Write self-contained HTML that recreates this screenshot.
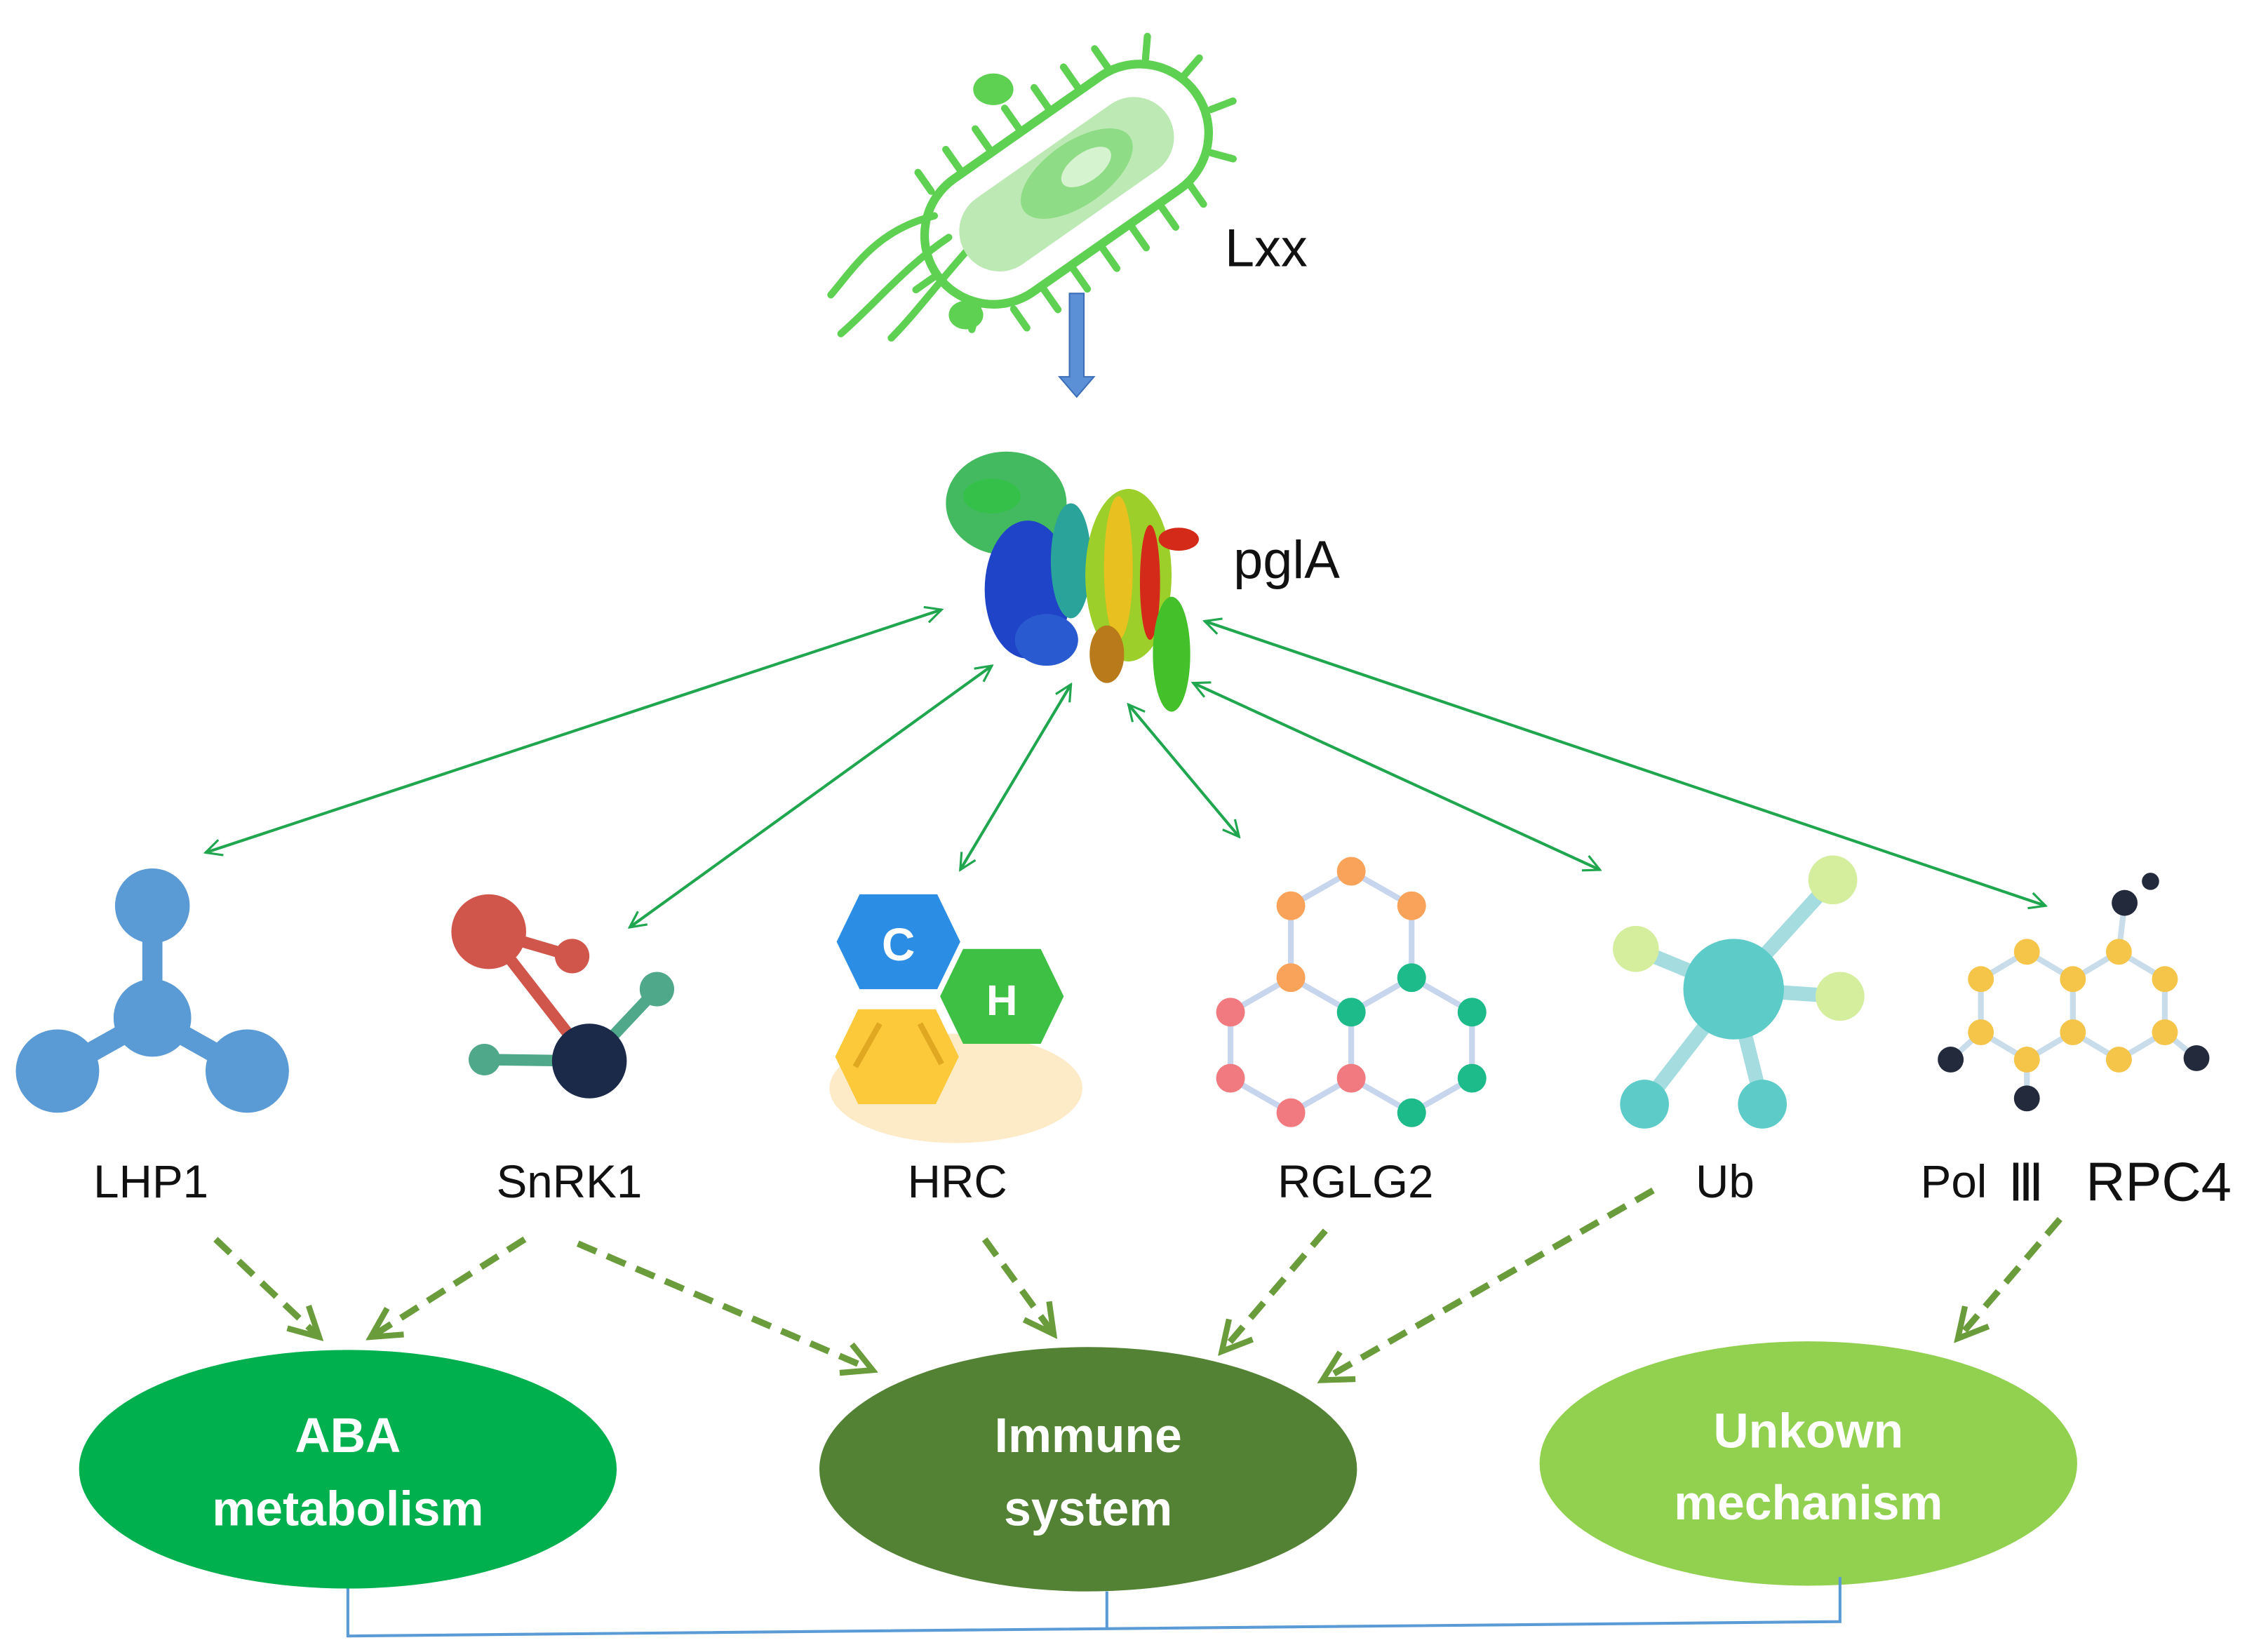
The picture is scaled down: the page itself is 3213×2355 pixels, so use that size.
<!DOCTYPE html>
<html><head><meta charset="utf-8"><style>
html,body{margin:0;padding:0;background:#fff;}
svg{display:block;}
text{font-family:"Liberation Sans","DejaVu Sans",sans-serif;}
</style></head><body>
<svg width="3213" height="2355" viewBox="0 0 1568 1149" xmlns="http://www.w3.org/2000/svg">
<defs>
<marker id="op" viewBox="0 0 20 20" refX="18" refY="10" markerWidth="14" markerHeight="14" markerUnits="userSpaceOnUse" orient="auto-start-reverse">
<path d="M2,2 L18,10 L2,18" fill="none" stroke="#1fa64f" stroke-width="2.2"/>
</marker>
<marker id="dh" viewBox="0 0 20 20" refX="17" refY="10" markerWidth="6" markerHeight="6" orient="auto">
<path d="M2,2 L17,10 L2,18" fill="none" stroke="#6b9c3c" stroke-width="3"/>
</marker>
</defs>

<!-- Bacterium -->
<g stroke="#5fd152" fill="none" stroke-width="5" stroke-linecap="round">
<path d="M650,150 C610,160 595,185 578,205"/>
<path d="M660,165 C630,185 610,210 585,232"/>
<path d="M672,175 C650,200 635,220 620,235"/>
<g transform="translate(742,128) rotate(-35)">
<rect x="-110" y="-48" width="220" height="96" rx="48" stroke-width="6"/>
<g stroke-width="5">
<path d="M-80,-50 v-16 M-55,-50 v-18 M-30,-50 v-18 M-5,-50 v-18 M20,-50 v-18 M45,-50 v-18 M70,-50 v-16 M95,-40 l10,-12 M110,-15 l16,-4 M112,15 l16,4"/>
<path d="M-80,50 v16 M-55,50 v18 M-30,50 v18 M-5,50 v18 M20,50 v18 M45,50 v18 M70,50 v16 M95,40 l10,12 M-100,35 l-12,10 M-112,0 h-16"/>
</g>
<rect x="-85" y="-28" width="170" height="56" rx="28" fill="#bdeab4" stroke="none"/>
<ellipse cx="10" cy="-2" rx="45" ry="22" fill="#8fdc86" stroke="none"/>
<ellipse cx="18" cy="-2" rx="20" ry="10" fill="#d6f3d0" stroke="none"/>
</g>
</g>
<ellipse cx="691" cy="62" rx="14" ry="11" fill="#5fd152"/>
<ellipse cx="672" cy="219" rx="12" ry="10" fill="#5fd152"/>
<text x="852" y="185" font-size="37" fill="#111">Lxx</text>

<!-- blue arrow -->
<path d="M744,204 h10 v58 h7 l-12,14 l-12,-14 h7 z" fill="#5b8fd6" stroke="#3d6fb8" stroke-width="1"/>

<!-- Protein -->
<g>
<ellipse cx="700" cy="350" rx="42" ry="36" fill="#2fb24f" opacity="0.9"/>
<ellipse cx="715" cy="410" rx="30" ry="48" fill="#1f44c8"/>
<ellipse cx="728" cy="445" rx="22" ry="18" fill="#2a5ad0"/>
<ellipse cx="745" cy="390" rx="14" ry="40" fill="#2aa39a"/>
<ellipse cx="785" cy="400" rx="30" ry="60" fill="#9ccf2a"/>
<ellipse cx="778" cy="395" rx="10" ry="50" fill="#e8c020"/>
<ellipse cx="800" cy="405" rx="7" ry="40" fill="#d42a1a"/>
<ellipse cx="820" cy="375" rx="14" ry="8" fill="#d42a1a"/>
<ellipse cx="770" cy="455" rx="12" ry="20" fill="#b87a1a"/>
<ellipse cx="815" cy="455" rx="13" ry="40" fill="#44c02a"/>
<ellipse cx="690" cy="345" rx="20" ry="12" fill="#35c04a"/>
</g>
<text x="858" y="402" font-size="37" fill="#111">pglA</text>

<!-- green double arrows -->
<g stroke="#1fa64f" stroke-width="2" fill="none" marker-start="url(#op)" marker-end="url(#op)">
<line x1="655" y1="424" x2="143" y2="593"/>
<line x1="690" y1="463" x2="438" y2="645"/>
<line x1="745" y1="476" x2="668" y2="605"/>
<line x1="785" y1="490" x2="862" y2="582"/>
<line x1="830" y1="475" x2="1113" y2="605"/>
<line x1="838" y1="432" x2="1423" y2="630"/>
</g>

<!-- LHP1 -->
<g fill="#5b9bd5" stroke="#5b9bd5">
<line x1="106" y1="630" x2="106" y2="708" stroke-width="14"/>
<line x1="106" y1="708" x2="40" y2="745" stroke-width="14"/>
<line x1="106" y1="708" x2="172" y2="745" stroke-width="14"/>
<circle cx="106" cy="630" r="26" stroke="none"/>
<circle cx="106" cy="708" r="27" stroke="none"/>
<circle cx="40" cy="745" r="29" stroke="none"/>
<circle cx="172" cy="745" r="29" stroke="none"/>
</g>

<!-- SnRK1 -->
<g stroke-width="8">
<line x1="340" y1="648" x2="398" y2="665" stroke="#d0554a"/>
<line x1="340" y1="648" x2="410" y2="738" stroke="#d0554a"/>
<line x1="410" y1="738" x2="457" y2="688" stroke="#4fa88a"/>
<line x1="410" y1="738" x2="337" y2="737" stroke="#4fa88a"/>
</g>
<circle cx="340" cy="648" r="26" fill="#d0554a"/>
<circle cx="398" cy="665" r="12" fill="#d0554a"/>
<circle cx="410" cy="738" r="26" fill="#1a2a48"/>
<circle cx="457" cy="688" r="12" fill="#4fa88a"/>
<circle cx="337" cy="737" r="11" fill="#4fa88a"/>

<!-- HRC -->
<ellipse cx="665" cy="757" rx="88" ry="38" fill="#fdebc8"/>
<polygon points="598,622 652,622 668,655 652,688 598,688 582,655" fill="#2b8de3"/>
<text x="625" y="668" font-size="32" font-weight="bold" fill="#fff" text-anchor="middle">C</text>
<polygon points="670,660 724,660 740,693 724,726 670,726 654,693" fill="#3ec044"/>
<text x="697" y="706" font-size="30" font-weight="bold" fill="#fff" text-anchor="middle">H</text>
<polygon points="597,702 651,702 667,735 651,768 597,768 581,735" fill="#fbc93a"/>
<g stroke="#e0a820" stroke-width="4"><line x1="612" y1="712" x2="595" y2="742"/><line x1="640" y1="712" x2="655" y2="740"/></g>

<!-- RGLG2 -->
<g stroke="#c7d6ec" stroke-width="4" fill="none">
<polyline points="898,630 940,606 982,630 982,680 940,704 898,680 898,630"/>
<polyline points="898,680 856,704 856,750 898,774 940,750 940,704"/>
<polyline points="982,680 1024,704 1024,750 982,774 940,750"/>
</g>
<g>
<circle cx="940" cy="606" r="10" fill="#f9a35a"/><circle cx="898" cy="630" r="10" fill="#f9a35a"/><circle cx="982" cy="630" r="10" fill="#f9a35a"/>
<circle cx="898" cy="680" r="10" fill="#f9a35a"/>
<circle cx="982" cy="680" r="10" fill="#1dbb8a"/><circle cx="940" cy="704" r="10" fill="#1dbb8a"/>
<circle cx="1024" cy="704" r="10" fill="#1dbb8a"/><circle cx="1024" cy="750" r="10" fill="#1dbb8a"/><circle cx="982" cy="774" r="10" fill="#1dbb8a"/>
<circle cx="856" cy="704" r="10" fill="#f07a80"/><circle cx="856" cy="750" r="10" fill="#f07a80"/><circle cx="898" cy="774" r="10" fill="#f07a80"/><circle cx="940" cy="750" r="10" fill="#f07a80"/>
</g>

<!-- Ub -->
<g stroke="#a5dce0" stroke-width="10">
<line x1="1206" y1="688" x2="1275" y2="612"/>
<line x1="1206" y1="688" x2="1138" y2="660"/>
<line x1="1206" y1="688" x2="1280" y2="693"/>
<line x1="1206" y1="688" x2="1144" y2="768"/>
<line x1="1206" y1="688" x2="1226" y2="768"/>
</g>
<circle cx="1206" cy="688" r="35" fill="#5dcbc8"/>
<circle cx="1275" cy="612" r="17" fill="#d5ee9e"/>
<circle cx="1138" cy="660" r="16" fill="#d5ee9e"/>
<circle cx="1280" cy="693" r="17" fill="#d5ee9e"/>
<circle cx="1144" cy="768" r="17" fill="#5dcbc8"/>
<circle cx="1226" cy="768" r="17" fill="#5dcbc8"/>

<!-- Pol III -->
<g stroke="#c8dcea" stroke-width="4" fill="none">
<polyline points="1410,662 1442,681 1442,718 1410,737 1378,718 1378,681 1410,662"/>
<polyline points="1442,681 1474,662 1506,681 1506,718 1474,737 1442,718"/>
<line x1="1474" y1="662" x2="1478" y2="628"/>
<line x1="1378" y1="718" x2="1357" y2="737"/>
<line x1="1410" y1="737" x2="1410" y2="764"/>
<line x1="1506" y1="718" x2="1528" y2="736"/>
</g>
<g fill="#f5c54a">
<circle cx="1410" cy="662" r="9"/><circle cx="1442" cy="681" r="9"/><circle cx="1442" cy="718" r="9"/><circle cx="1410" cy="737" r="9"/><circle cx="1378" cy="718" r="9"/><circle cx="1378" cy="681" r="9"/>
<circle cx="1474" cy="662" r="9"/><circle cx="1506" cy="681" r="9"/><circle cx="1506" cy="718" r="9"/><circle cx="1474" cy="737" r="9"/>
</g>
<g fill="#222a3c">
<circle cx="1478" cy="628" r="9"/><circle cx="1496" cy="613" r="6"/><circle cx="1357" cy="737" r="9"/><circle cx="1410" cy="764" r="9"/><circle cx="1528" cy="736" r="9"/>
</g>

<!-- labels -->
<g font-size="32" fill="#111" text-anchor="middle">
<text x="105" y="833">LHP1</text>
<text x="396" y="833">SnRK1</text>
<text x="666" y="833">HRC</text>
<text x="943" y="833">RGLG2</text>
<text x="1200" y="833">Ub</text>
</g>
<text x="1336" y="833" font-size="32" fill="#111">Pol</text>
<text x="1397" y="835" font-size="36" fill="#111" font-family="Liberation Serif, 'Noto Serif CJK SC', serif">Ⅲ</text>
<text x="1451" y="835" font-size="38" fill="#111">RPC4</text>

<!-- dashed arrows -->
<g stroke="#6b9c3c" stroke-width="4.5" fill="none" stroke-dasharray="14,8" marker-end="url(#dh)">
<line x1="150" y1="862" x2="222" y2="930"/>
<line x1="365" y1="862" x2="258" y2="930"/>
<line x1="402" y1="865" x2="607" y2="953"/>
<line x1="685" y1="862" x2="733" y2="928"/>
<line x1="922" y1="856" x2="850" y2="940"/>
<line x1="1150" y1="828" x2="920" y2="960"/>
<line x1="1433" y1="848" x2="1362" y2="931"/>
</g>

<!-- ellipses -->
<ellipse cx="242" cy="1022" rx="187" ry="83" fill="#00b04f"/>
<ellipse cx="757" cy="1022" rx="187" ry="85" fill="#548235"/>
<ellipse cx="1258" cy="1018" rx="187" ry="85" fill="#92d050"/>
<g font-size="34" font-weight="bold" fill="#fff" text-anchor="middle">
<text x="242" y="1010">ABA</text><text x="242" y="1061">metabolism</text>
<text x="757" y="1010">Immune</text><text x="757" y="1061">system</text>
<text x="1258" y="1007">Unkown</text><text x="1258" y="1057">mechanism</text>
</g>

<!-- bottom bracket -->
<g stroke="#5b9bd5" stroke-width="2" fill="none">
<polyline points="242,1105 242,1138 1280,1128 1280,1097"/>
<line x1="770" y1="1107" x2="770" y2="1133"/>
</g>
</svg>
</body></html>
